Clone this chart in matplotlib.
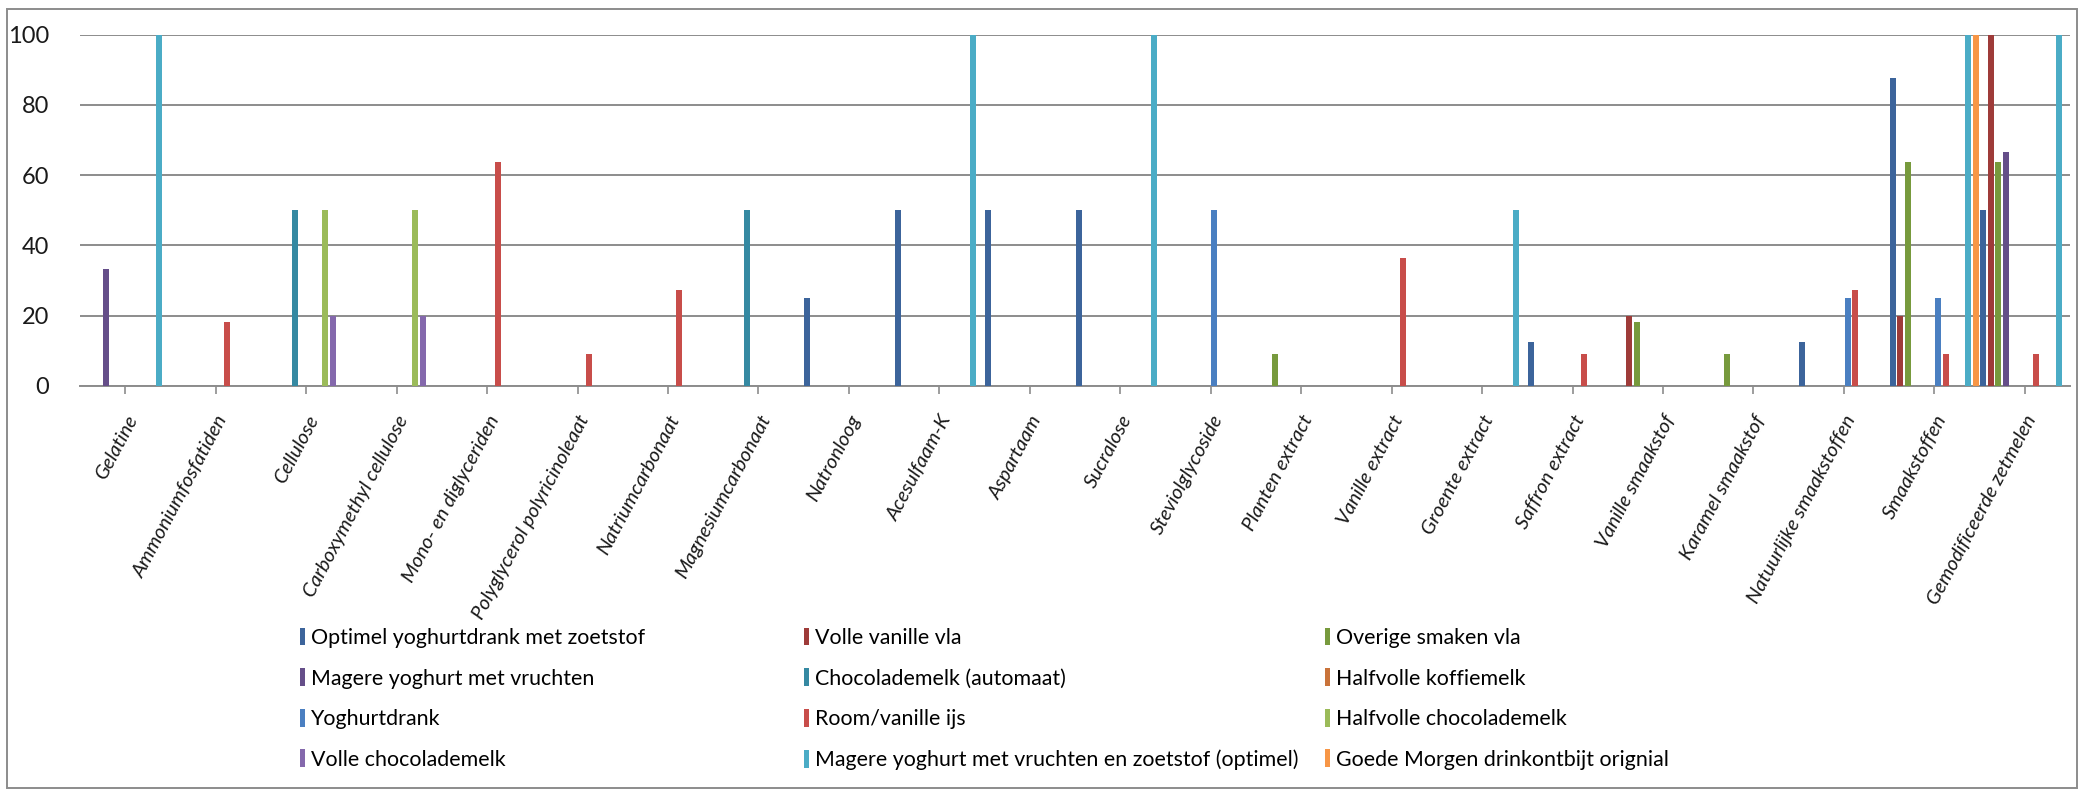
import numpy as np
import matplotlib.pyplot as plt
from matplotlib.patches import Patch, Rectangle

categories = ["Gelatine", "Ammoniumfosfatiden", "Cellulose", "Carboxymethyl cellulose",
              "Mono- en diglyceriden", "Polyglycerol polyricinoleaat", "Natriumcarbonaat",
              "Magnesiumcarbonaat", "Natronloog", "Acesulfaam-K", "Aspartaam", "Sucralose",
              "Steviolglycoside", "Planten extract", "Vanille extract", "Groente extract",
              "Saffron extract", "Vanille smaakstof", "Karamel smaakstof",
              "Natuurlijke smaakstoffen", "Smaakstoffen", "Gemodificeerde zetmelen"]

# percentages per product, one value per ingredient above
optimel_drank   = [0, 0, 0, 0, 0, 0, 0, 0, 25, 50, 50, 50, 0, 0, 0, 0, 12.5, 0, 0, 12.5, 87.5, 50]
volle_vla       = [0, 0, 0, 0, 0, 0, 0, 0, 0, 0, 0, 0, 0, 0, 0, 0, 0, 20, 0, 0, 20, 100]
overige_vla     = [0, 0, 0, 0, 0, 0, 0, 0, 0, 0, 0, 0, 0, 9.1, 0, 0, 0, 18.2, 9.1, 0, 63.6, 63.6]
magere_yoghurt  = [33.3, 0, 0, 0, 0, 0, 0, 0, 0, 0, 0, 0, 0, 0, 0, 0, 0, 0, 0, 0, 0, 66.7]
choco_automaat  = [0, 0, 50, 0, 0, 0, 0, 50, 0, 0, 0, 0, 0, 0, 0, 0, 0, 0, 0, 0, 0, 0]
koffiemelk      = [0] * 22
yoghurtdrank    = [0, 0, 0, 0, 0, 0, 0, 0, 0, 0, 0, 0, 50, 0, 0, 0, 0, 0, 0, 25, 25, 0]
room_ijs        = [0, 18.2, 0, 0, 63.6, 9.1, 27.3, 0, 0, 0, 0, 0, 0, 0, 36.4, 0, 9.1, 0, 0, 27.3, 9.1, 9.1]
halfvolle_choco = [0, 0, 50, 50, 0, 0, 0, 0, 0, 0, 0, 0, 0, 0, 0, 0, 0, 0, 0, 0, 0, 0]
volle_choco     = [0, 0, 20, 20, 0, 0, 0, 0, 0, 0, 0, 0, 0, 0, 0, 0, 0, 0, 0, 0, 0, 0]
optimel_yoghurt = [100, 0, 0, 0, 0, 0, 0, 0, 0, 100, 0, 100, 0, 0, 0, 50, 0, 0, 0, 0, 100, 100]
goede_morgen    = [0, 0, 0, 0, 0, 0, 0, 0, 0, 0, 0, 0, 0, 0, 0, 0, 0, 0, 0, 0, 100, 0]

series_names = ["Optimel yoghurtdrank met zoetstof", "Volle vanille vla", "Overige smaken vla",
                "Magere yoghurt met vruchten", "Chocolademelk (automaat)", "Halfvolle koffiemelk",
                "Yoghurtdrank", "Room/vanille ijs", "Halfvolle chocolademelk",
                "Volle chocolademelk", "Magere yoghurt met vruchten en zoetstof (optimel)",
                "Goede Morgen drinkontbijt orignial"]
series_values = [optimel_drank, volle_vla, overige_vla, magere_yoghurt, choco_automaat,
                 koffiemelk, yoghurtdrank, room_ijs, halfvolle_choco, volle_choco,
                 optimel_yoghurt, goede_morgen]
colors = ["#3C649B", "#9E3B39", "#779A3D", "#654E89", "#3589A2", "#C9733A",
          "#4A7FC1", "#C84D4A", "#9BBB59", "#8468AC", "#4BACC6", "#F79646"]

fig = plt.figure(figsize=(20.82, 7.91), dpi=100)
ax = fig.add_axes([80 / 2082, 1 - 386 / 791, 1990 / 2082, 351.5 / 791])

n = len(series_values)
x = np.arange(len(categories))
slot = 1.0 / n
for i, (vals, col) in enumerate(zip(series_values, colors)):
    ax.bar(x + (i - (n - 1) / 2) * slot, vals, width=slot * 0.8, color=col,
           edgecolor="none", zorder=3)

ax.set_xlim(-0.5, len(categories) - 0.5)
ax.set_ylim(0, 100)
ax.set_yticks(range(0, 101, 20))
ax.yaxis.grid(True, color="#8C8C8C", linewidth=1.4, zorder=0)
ax.tick_params(axis="y", length=0, labelsize=17, pad=22, labelcolor="#1A1A1A")
for lbl in ax.get_yticklabels():
    lbl.set_family("Lato")

ax.set_xticks(x)
ax.set_xticklabels(categories, rotation=62, ha="right", va="top", rotation_mode="anchor",
                   fontsize=14.5, style="italic", family="Lato", color="#1A1A1A")
ax.tick_params(axis="x", length=6, width=1.2, color="#8C8C8C", pad=13)

for side in ["top", "right", "left"]:
    ax.spines[side].set_visible(False)
ax.spines["bottom"].set_color("#8C8C8C")
ax.spines["bottom"].set_linewidth(1.4)

# legend in three columns, filled row by row
handles = [Patch(facecolor=c, edgecolor="none") for c in colors]
col_x = [289 / 2082, 793 / 2082, 1314 / 2082]
for c in range(3):
    idx = list(range(c, n, 3))
    fig.legend([handles[i] for i in idx], [series_names[i] for i in idx],
               loc="upper left", bbox_to_anchor=(col_x[c], 1 - 617 / 791),
               frameon=False, handlelength=0.25, handleheight=0.9,
               handletextpad=0.3, labelspacing=0.95, borderpad=0,
               prop={"family": "Lato", "size": 15.4})

fig.patches.append(Rectangle((7 / 2082, 3 / 791), 2070 / 2082, 779 / 791,
                             transform=fig.transFigure, fill=False,
                             edgecolor="#8C8C8C", linewidth=1.4))

fig.savefig("out.png", dpi=100)
